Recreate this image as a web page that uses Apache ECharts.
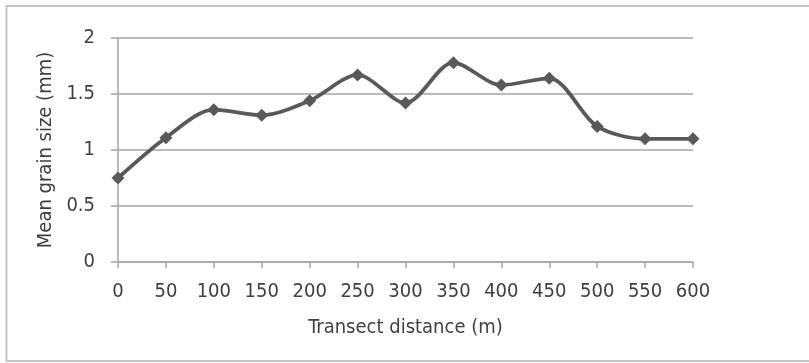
<!DOCTYPE html>
<html><head><meta charset="utf-8">
<script src="https://cdn.jsdelivr.net/npm/echarts@6/dist/echarts.min.js"></script>
<style>html,body{margin:0;padding:0;background:#fff}#c{width:809px;height:363px}</style>
</head><body><div id="c"></div>
<script>
const distances = ['0','50','100','150','200','250','300','350','400','450','500','550','600'];
const grainSize = [0.75,1.11,1.36,1.31,1.44,1.67,1.42,1.78,1.58,1.64,1.21,1.10,1.10];
const yTicks = {min:0,max:2,interval:0.5};
const FONT = '"DejaVu Sans Condensed","Liberation Sans Narrow","Open Sans",sans-serif';
const chart = echarts.init(document.getElementById('c'), null, {renderer:'canvas'});
chart.setOption({
  animation:false,
  backgroundColor:'#fff',
  graphic:[{type:'rect',shape:{x:6.5,y:6,width:820,height:355},style:{fill:'none',stroke:'#c4c4c4',lineWidth:2}}],
  grid:{left:118,right:116,top:38,bottom:101},
  xAxis:{type:'category',data:distances,boundaryGap:false,
    name:'Transect distance (m)',nameLocation:'middle',nameGap:56,
    nameTextStyle:{fontFamily:FONT,fontSize:20,color:'#404040'},
    axisLine:{lineStyle:{color:'#a6a6a6',width:1.5}},
    axisTick:{show:true,length:6,lineStyle:{color:'#a6a6a6',width:1.5}},
    axisLabel:{fontFamily:FONT,fontSize:20,color:'#404040',margin:20},
    splitLine:{show:false}},
  yAxis:{type:'value',min:yTicks.min,max:yTicks.max,interval:yTicks.interval,
    name:'Mean grain size (mm)',nameLocation:'middle',nameGap:60,
    nameTextStyle:{fontFamily:FONT,fontSize:20,color:'#404040'},
    axisLine:{show:true,lineStyle:{color:'#a6a6a6',width:1.5}},
    axisTick:{show:true,length:7,lineStyle:{color:'#a6a6a6',width:1.5}},
    axisLabel:{fontFamily:FONT,fontSize:20,color:'#404040',margin:23},
    splitLine:{lineStyle:{color:'#a6a6a6',width:1.5}}},
  series:[{type:'line',data:grainSize,smooth:0.3,
    lineStyle:{color:'#595959',width:3.8},
    symbol:'diamond',symbolSize:13,
    itemStyle:{color:'#595959'}}]
});
</script></body></html>
